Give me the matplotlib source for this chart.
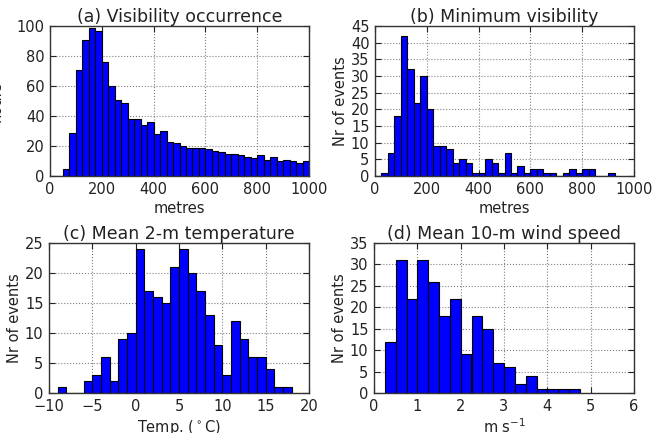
import numpy as np
import matplotlib
matplotlib.use('Agg')
import matplotlib.pyplot as plt

# ---- data ----
vis_edges = np.arange(0, 1001, 25)
vis_hours = [0, 0, 5, 29, 71, 91, 99, 97, 76, 60, 51, 49, 38, 38, 34, 36, 28, 30, 23, 22,
             20, 19, 19, 19, 18, 17, 16, 15, 15, 14, 13, 12, 14, 11, 13, 10, 11, 10, 9, 10]

minvis_edges = np.arange(0, 926, 25)
minvis_counts = [0, 1, 7, 18, 42, 32, 22, 30, 20, 9, 9, 8, 4, 5, 4, 1, 1, 5, 4, 1,
                 7, 1, 3, 1, 2, 2, 1, 1, 0, 1, 2, 1, 2, 2, 0, 0, 1]

temp_edges = np.arange(-9, 19, 1)
temp_counts = [1, 0, 0, 2, 3, 6, 2, 9, 10, 24, 17, 16, 15, 21, 24, 20, 17, 13, 8, 3,
               12, 9, 6, 6, 4, 1, 1]

wind_edges = np.arange(0.25, 4.76, 0.25)
wind_counts = [12, 31, 22, 31, 26, 18, 22, 9, 18, 15, 7, 6, 2, 4, 1, 1, 1, 1]

titles = ['(a) Visibility occurrence', '(b) Minimum visibility',
          '(c) Mean 2-m temperature', '(d) Mean 10-m wind speed']
xlabels = ['metres', 'metres', 'Temp. ($^\\circ$C)', 'm s$^{-1}$']
ylabels = ['hours', 'Nr of events', 'Nr of events', 'Nr of events']
xlims = [(0, 1000), (0, 1000), (-10, 20), (0, 6)]
ylims = [(0, 100), (0, 45), (0, 25), (0, 35)]
xticks = [np.arange(0, 1001, 200), np.arange(0, 1001, 200), np.arange(-10, 21, 5), np.arange(0, 7, 1)]
yticks = [np.arange(0, 101, 20), np.arange(0, 46, 5), np.arange(0, 26, 5), np.arange(0, 36, 5)]

plt.rcParams['font.family'] = ['DejaVu Sans']
plt.rcParams['mathtext.default'] = 'regular'

fig = plt.figure(figsize=(6.53, 4.33), dpi=100, facecolor='white')
W, H = 653, 433
boxes = [(50, 26, 309, 176), (375, 26, 634, 176), (49, 243, 309, 393), (374, 243, 634, 393)]
ylabelpads = [9, 2, 2, 2]
data = [(vis_edges, vis_hours), (minvis_edges, minvis_counts),
        (temp_edges, temp_counts), (wind_edges, wind_counts)]

for i, (l, t, r, b) in enumerate(boxes):
    ax = fig.add_axes([l / W, 1 - b / H, (r - l) / W, (b - t) / H])
    edges, counts = data[i]
    edges = np.asarray(edges, dtype=float)
    ax.bar(edges[:-1], counts, width=np.diff(edges), align='edge',
           color='#0000ff', edgecolor='black', linewidth=0.8, zorder=2)
    ax.set_xlim(*xlims[i])
    ax.set_ylim(*ylims[i])
    ax.set_xticks(xticks[i])
    ax.set_yticks(yticks[i])
    ax.grid(True, linestyle=':', color='0.5', linewidth=0.8, zorder=0)
    ax.set_axisbelow(True)
    ax.tick_params(direction='in', top=True, right=True, labelsize=10.5,
                   length=4, width=0.8, colors='#222222', pad=4)
    for sp in ax.spines.values():
        sp.set_color('#333333')
        sp.set_linewidth(1.0)
    ax.set_title(titles[i], fontsize=12.5, color='#222222', pad=3)
    ax.set_xlabel(xlabels[i], fontsize=10.5, color='#222222', labelpad=3)
    ax.set_ylabel(ylabels[i], fontsize=10.5, color='#222222', labelpad=ylabelpads[i])

fig.savefig('out.png', dpi=100, facecolor='white')
